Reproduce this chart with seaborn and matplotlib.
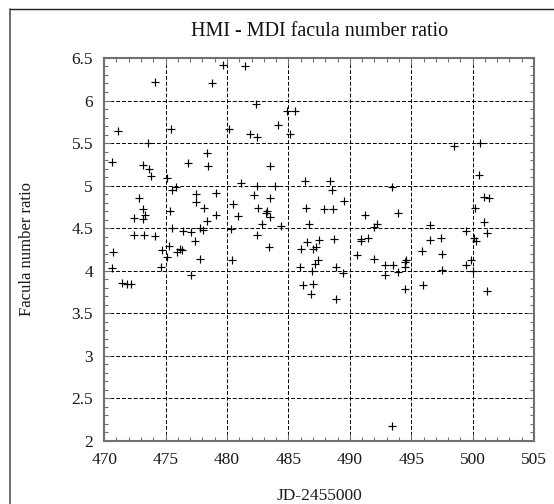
import numpy as np
import pandas as pd
import matplotlib
matplotlib.use('Agg')
import matplotlib.pyplot as plt
import seaborn as sns
from matplotlib.lines import Line2D
from matplotlib.ticker import MultipleLocator, FormatStrFormatter, FuncFormatter

# JD-2455000 values and facula number ratio
jd = [
    474.16, 479.7, 478.8, 471.15, 473.6, 475.44, 480.2, 470.67, 473.2, 473.67,
    473.83, 476.84, 478.4, 478.45, 475.15, 475.5, 475.85, 472.87, 477.45, 477.45,
    479.1, 478.1, 473.14, 473.35, 472.47, 473.17, 475.36, 479.1, 478.4, 477.77,
    478.04, 475.5, 476.38, 477.1, 477.4, 472.47, 473.27, 474.1,
    470.72, 470.67, 474.7, 475.28, 475.15, 475.9, 476.2, 476.35, 477.77, 474.64,
    477.1, 471.47, 471.88, 472.2,
    481.44, 482.36, 484.9, 485.5, 484.16, 481.85, 482.45, 485.16, 483.48, 481.14,
    482.45, 483.9, 482.17, 483.48, 480.46, 482.5, 483.26, 483.2, 483.48, 480.87,
    482.85, 484.4, 480.33, 482.45, 483.4, 486.33, 488.37, 488.56, 489.5, 486.4,
    487.9, 488.6, 486.66, 486.5, 487.5, 488.7, 486.0, 487.0, 491.2, 492.2,
    492.0, 490.9, 490.95, 491.5,
    480.4, 487.25, 490.6, 491.96, 492.9, 492.9, 485.98, 487.2, 487.4, 486.9,
    488.9, 489.46, 486.2, 486.98, 486.85, 488.9,
    498.51, 500.6, 500.5, 493.46, 500.95, 501.3, 500.2, 493.9, 500.95, 496.5,
    501.2, 499.5, 496.5, 497.4, 500.15, 500.25, 495.9,
    493.5, 494.6, 494.5, 494.5, 493.9, 494.5, 495.97, 497.5, 497.5, 499.9,
    499.5, 500.0, 501.2,
    493.4,
]
ratio = [
    6.22, 6.42, 6.21, 5.64, 5.50, 5.66, 5.66, 5.28, 5.24, 5.20,
    5.11, 5.27, 5.38, 5.23, 5.09, 4.95, 4.98, 4.85, 4.90, 4.81,
    4.91, 4.74, 4.72, 4.66, 4.62, 4.61, 4.70, 4.66, 4.58, 4.50,
    4.48, 4.50, 4.47, 4.45, 4.35, 4.42, 4.42, 4.41,
    4.22, 4.03, 4.24, 4.29, 4.16, 4.22, 4.25, 4.24, 4.14, 4.05,
    3.95, 3.86, 3.85, 3.85,
    6.40, 5.96, 5.88, 5.88, 5.71, 5.61, 5.57, 5.61, 5.23, 5.03,
    4.99, 5.00, 4.89, 4.85, 4.78, 4.74, 4.70, 4.68, 4.63, 4.64,
    4.55, 4.53, 4.49, 4.42, 4.28, 5.06, 5.06, 4.95, 4.82, 4.74,
    4.72, 4.73, 4.55, 4.34, 4.36, 4.37, 4.26, 4.26, 4.66, 4.55,
    4.51, 4.35, 4.37, 4.39,
    4.125, 4.28, 4.18, 4.14, 4.07, 3.95, 4.05, 4.08, 4.125, 4.00,
    4.05, 3.97, 3.83, 3.85, 3.73, 3.67,
    5.47, 5.50, 5.12, 4.98, 4.87, 4.86, 4.74, 4.68, 4.57, 4.54,
    4.44, 4.47, 4.36, 4.39, 4.39, 4.35, 4.23,
    4.07, 4.13, 4.10, 4.04, 3.99, 3.79, 3.83, 4.20, 4.01, 4.13,
    4.07, 4.00, 3.76,
    2.175,
]

df = pd.DataFrame({'jd': jd, 'ratio': ratio})

sns.set_style('ticks')
plt.rcParams['font.family'] = ['Liberation Serif', 'DejaVu Serif']

fig = plt.figure(figsize=(5.54, 5.04), dpi=100)
ax = fig.add_axes([0.188, 0.125, 0.776, 0.760])

sns.scatterplot(data=df, x='jd', y='ratio', marker='+', color='black',
                s=30, linewidth=0.85, ax=ax, zorder=3)

ax.set_xlim(470, 505)
ax.set_ylim(2, 6.5)
ax.xaxis.set_major_locator(MultipleLocator(5))
ax.xaxis.set_minor_locator(MultipleLocator(1))
ax.yaxis.set_major_locator(MultipleLocator(0.5))
ax.yaxis.set_minor_locator(MultipleLocator(0.1))
ax.yaxis.set_major_formatter(FuncFormatter(lambda v, p: '%g' % v))
ax.xaxis.set_major_formatter(FormatStrFormatter('%d'))

ax.grid(True, which='major', color='black', linestyle=(0, (4, 2)), linewidth=0.7)
ax.tick_params(which='both', direction='in', top=True, right=True,
               colors='#707070', labelcolor='#1a1a1a', labelsize=12.5)
ax.tick_params(which='major', length=5, width=0.8, pad=8)
ax.tick_params(which='minor', length=3, width=0.8)
for sp in ax.spines.values():
    sp.set_color('#707070')
    sp.set_linewidth(1.5)

ax.set_title('HMI - MDI facula number ratio', fontsize=14.5, pad=16, color='#111111')
ax.set_xlabel('JD-2455000', fontsize=12.5, color='#1a1a1a')
ax.set_ylabel('Facula number ratio', fontsize=12, color='#1a1a1a')
ax.xaxis.set_label_coords(0.5, -0.123)
ax.yaxis.set_label_coords(-0.16, 0.5)

# partial outer frame like the original export
fig.add_artist(Line2D([10 / 554, 10 / 554], [0, 1 - 9 / 504], transform=fig.transFigure,
                      color='#555555', linewidth=1.2))
fig.add_artist(Line2D([10 / 554, 1], [1 - 9 / 504, 1 - 9 / 504], transform=fig.transFigure,
                      color='#222222', linewidth=1.0))

fig.savefig('out.png', dpi=100, facecolor='white')
